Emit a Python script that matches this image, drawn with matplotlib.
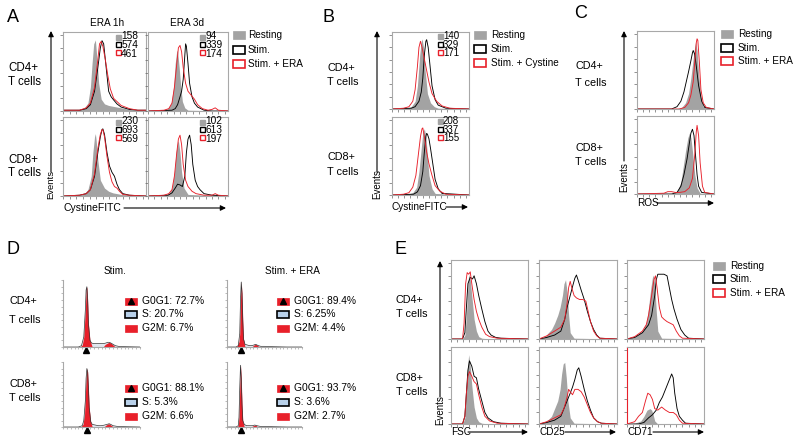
import matplotlib
matplotlib.use('Agg')
import matplotlib.pyplot as plt
from matplotlib.patches import Rectangle, FancyArrowPatch
from matplotlib.lines import Line2D
import numpy as np

plt.rcParams['font.family'] = ['Liberation Sans', 'DejaVu Sans']

# ---------------- DATA (x: % of axis width, y: % of max events) ----------------
# Panel A, CD4, ERA 1h
a11_rest_x = [0, 15, 25, 30, 33, 35, 37, 39, 41, 43, 46, 50, 55, 60, 70, 80, 90, 100]
a11_rest_y = [1, 1, 3, 10, 30, 60, 85, 90, 65, 35, 15, 9, 7, 6, 4, 2, 1, 1]
a11_stim_x = [0, 20, 28, 33, 38, 42, 45, 47, 49, 52, 55, 58, 61, 65, 70, 80, 90, 100]
a11_stim_y = [1, 1, 3, 8, 25, 55, 80, 89, 85, 55, 25, 18, 14, 9, 5, 2, 1, 1]
a11_era_x = [0, 20, 28, 33, 38, 42, 44, 46, 48, 51, 54, 57, 61, 65, 70, 80, 90, 100]
a11_era_y = [1, 1, 4, 10, 30, 65, 85, 88, 82, 65, 45, 28, 16, 12, 7, 3, 1, 1]
# Panel A, CD4, ERA 3d
a12_rest_x = [0, 20, 25, 29, 32, 34, 36, 37, 39, 41, 43, 46, 50, 100]
a12_rest_y = [0, 1, 3, 10, 30, 60, 77, 75, 55, 30, 12, 4, 1, 0]
a12_stim_x = [0, 30, 34, 37, 40, 42, 44, 46, 47, 48, 50, 52, 55, 58, 62, 66, 70, 80, 100]
a12_stim_y = [0, 1, 3, 8, 18, 25, 40, 70, 85, 82, 60, 35, 18, 10, 5, 3, 1, 0, 0]
a12_era_x = [0, 20, 26, 30, 33, 36, 38, 40, 42, 44, 47, 50, 54, 58, 62, 68, 75, 80, 84, 88, 100]
a12_era_y = [0, 1, 3, 10, 30, 60, 80, 83, 75, 55, 35, 25, 20, 15, 8, 3, 1, 2, 4, 1, 0]
# Panel A, CD8, ERA 1h
a21_rest_x = [0, 20, 26, 30, 34, 36, 38, 39, 40, 42, 45, 50, 55, 60, 70, 100]
a21_rest_y = [0, 1, 3, 8, 25, 55, 75, 79, 70, 45, 20, 10, 6, 4, 2, 0]
a21_stim_x = [0, 20, 28, 33, 38, 42, 45, 47, 48, 50, 53, 56, 59, 62, 65, 68, 72, 80, 100]
a21_stim_y = [0, 1, 3, 8, 25, 55, 75, 84, 85, 78, 55, 38, 30, 25, 15, 8, 3, 1, 0]
a21_era_x = [0, 20, 28, 33, 38, 42, 45, 47, 48, 50, 53, 56, 59, 62, 65, 68, 72, 80, 100]
a21_era_y = [0, 1, 3, 8, 28, 60, 78, 84, 84, 75, 50, 30, 18, 12, 10, 6, 2, 1, 0]
# Panel A, CD8, ERA 3d
a22_rest_x = [0, 20, 26, 30, 33, 35, 37, 38, 40, 42, 45, 50, 100]
a22_rest_y = [0, 1, 3, 10, 30, 55, 68, 70, 55, 30, 10, 2, 0]
a22_stim_x = [0, 25, 30, 34, 37, 40, 43, 46, 48, 50, 52, 54, 56, 59, 62, 65, 70, 80, 100]
a22_stim_y = [0, 1, 4, 10, 15, 14, 12, 25, 55, 72, 77, 65, 40, 20, 12, 8, 3, 1, 0]
a22_era_x = [0, 20, 26, 30, 33, 36, 38, 40, 42, 44, 47, 50, 55, 60, 70, 80, 84, 88, 100]
a22_era_y = [0, 1, 3, 8, 25, 55, 72, 77, 65, 40, 20, 12, 6, 3, 1, 1, 3, 1, 0]
a_mfi = [[158, 574, 461], [94, 339, 174], [230, 693, 569], [102, 613, 197]]

# Panel B
b1_rest_x = [0, 20, 25, 30, 33, 36, 38, 39, 41, 43, 46, 50, 55, 60, 100]
b1_rest_y = [0, 1, 3, 10, 30, 70, 88, 91, 80, 50, 20, 8, 3, 1, 0]
b1_stim_x = [0, 25, 30, 35, 38, 40, 42, 44, 45, 47, 49, 52, 56, 60, 70, 100]
b1_stim_y = [0, 1, 3, 10, 22, 40, 70, 88, 90, 80, 60, 30, 12, 5, 1, 0]
b1_cys_x = [0, 15, 22, 27, 30, 33, 35, 37, 39, 41, 44, 48, 52, 58, 65, 75, 100]
b1_cys_y = [0, 1, 3, 10, 25, 55, 80, 88, 80, 70, 55, 35, 20, 10, 4, 1, 0]
b2_rest_x = [0, 20, 27, 32, 35, 38, 40, 42, 44, 46, 48, 52, 56, 100]
b2_rest_y = [0, 1, 3, 10, 30, 60, 80, 85, 75, 50, 25, 8, 2, 0]
b2_stim_x = [0, 28, 33, 37, 40, 42, 44, 45, 46, 48, 50, 53, 56, 60, 65, 100]
b2_stim_y = [0, 1, 4, 12, 30, 55, 75, 79, 78, 72, 60, 40, 20, 8, 2, 0]
b2_cys_x = [0, 15, 22, 27, 31, 34, 37, 39, 40, 42, 45, 48, 52, 56, 62, 70, 100]
b2_cys_y = [0, 1, 3, 10, 25, 50, 75, 85, 86, 75, 55, 40, 25, 12, 5, 1, 0]
b_mfi = [[140, 329, 171], [208, 337, 155]]

# Panel C (ROS)
c1_rest_x = [0, 50, 58, 63, 67, 70, 73, 75, 76, 78, 80, 83, 86, 100]
c1_rest_y = [0, 0, 2, 8, 20, 40, 65, 80, 86, 75, 45, 15, 3, 0]
c1_stim_x = [0, 45, 52, 57, 61, 64, 67, 70, 72, 73, 75, 77, 80, 84, 88, 100]
c1_stim_y = [0, 0, 3, 10, 22, 35, 48, 62, 72, 75, 70, 55, 30, 10, 2, 0]
c1_era_x = [0, 55, 62, 67, 70, 73, 75, 77, 78, 79, 81, 83, 86, 90, 100]
c1_era_y = [0, 0, 2, 8, 18, 35, 60, 85, 90, 88, 60, 25, 8, 2, 0]
c2_rest_x = [0, 45, 52, 57, 60, 63, 66, 68, 70, 72, 75, 78, 82, 100]
c2_rest_y = [0, 0, 3, 15, 35, 55, 72, 78, 72, 55, 25, 8, 1, 0]
c2_stim_x = [0, 45, 52, 57, 61, 65, 68, 70, 72, 74, 76, 78, 80, 84, 100]
c2_stim_y = [0, 0, 2, 10, 25, 45, 65, 78, 83, 75, 50, 25, 10, 2, 0]
c2_era_x = [0, 35, 40, 45, 50, 55, 62, 68, 72, 75, 77, 78, 80, 82, 85, 88, 100]
c2_era_y = [0, 1, 3, 3, 2, 2, 3, 8, 20, 50, 80, 88, 75, 40, 10, 2, 0]

# Panel D (cell cycle)
d11_all_x = [0, 20, 24, 27, 29, 30, 31, 32, 33, 35, 37, 40, 44, 48, 52, 56, 58, 60, 62, 65, 68, 72, 80, 100]
d11_all_y = [0, 0, 2, 15, 55, 85, 90, 70, 35, 10, 6, 5, 5, 5, 5, 6, 7, 7, 6, 4, 2, 1, 0.5, 0]
d11_g1_x = [22, 25, 27, 29, 30, 31, 32, 33, 35, 38]
d11_g1_y = [0, 3, 15, 55, 85, 90, 70, 35, 10, 0]
d11_g2_x = [52, 55, 58, 60, 62, 65, 68]
d11_g2_y = [0, 4, 6, 7, 6, 3, 0]
d12_all_x = [0, 12, 15, 17, 18, 19, 20, 21, 22, 24, 27, 30, 33, 36, 38, 40, 42, 45, 50, 60, 80, 100]
d12_all_y = [0, 0, 2, 20, 70, 97, 80, 40, 12, 4, 3, 2, 2, 3, 4, 3, 2, 1, 1, 0.5, 0, 0]
d12_g1_x = [13, 16, 17, 18, 19, 20, 21, 22, 24]
d12_g1_y = [0, 8, 20, 70, 97, 80, 40, 12, 0]
d12_g2_x = [33, 36, 38, 40, 43]
d12_g2_y = [0, 3, 4, 3, 0]
d21_all_x = [0, 20, 25, 27, 29, 30, 31, 32, 33, 34, 36, 38, 42, 46, 50, 54, 57, 60, 62, 65, 70, 80, 100]
d21_all_y = [0, 0, 2, 10, 40, 75, 90, 85, 60, 30, 8, 4, 3, 2, 2, 3, 4, 5, 4, 2, 1, 0.5, 0]
d21_g1_x = [23, 26, 28, 30, 31, 32, 33, 34, 36, 38]
d21_g1_y = [0, 4, 20, 75, 90, 85, 60, 30, 8, 0]
d21_g2_x = [53, 56, 59, 61, 63, 66]
d21_g2_y = [0, 3, 5, 4, 2, 0]
d22_all_x = [0, 12, 15, 16, 17, 18, 19, 20, 21, 23, 26, 30, 34, 37, 40, 44, 50, 60, 80, 100]
d22_all_y = [0, 0, 2, 15, 60, 95, 75, 35, 10, 4, 2, 2, 2, 3, 2, 1, 1, 0.5, 0, 0]
d22_g1_x = [13, 15, 16, 17, 18, 19, 20, 21, 23]
d22_g1_y = [0, 2, 15, 60, 95, 75, 35, 10, 0]
d22_g2_x = [32, 35, 38, 41]
d22_g2_y = [0, 2, 3, 0]
d_peak = [30.5, 19, 31, 18]
d_g0g1 = ['72.7%', '89.4%', '88.1%', '93.7%']
d_s = ['20.7%', '6.25%', '5.3%', '3.6%']
d_g2m = ['6.7%', '4.4%', '6.6%', '2.7%']

# Panel E (FSC, CD25, CD71)
e11_rest_x = [0, 15, 18, 20, 22, 23, 25, 27, 30, 33, 36, 40, 50, 100]
e11_rest_y = [0, 0, 5, 30, 70, 82, 75, 55, 25, 10, 3, 1, 0, 0]
e11_stim_x = [0, 15, 18, 20, 22, 25, 28, 30, 33, 36, 40, 44, 48, 52, 58, 65, 100]
e11_stim_y = [0, 0, 8, 40, 70, 78, 76, 80, 70, 55, 38, 22, 10, 5, 2, 1, 0]
e11_era_x = [0, 15, 17, 19, 21, 23, 25, 27, 30, 33, 36, 40, 45, 50, 60, 100]
e11_era_y = [0, 0, 20, 70, 84, 82, 85, 70, 50, 35, 25, 15, 6, 3, 1, 0]
e12_rest_x = [0, 8, 12, 16, 20, 24, 27, 30, 32, 34, 36, 38, 40, 45, 100]
e12_rest_y = [0, 3, 8, 12, 20, 30, 40, 55, 70, 75, 60, 30, 8, 1, 0]
e12_stim_x = [0, 10, 20, 28, 33, 36, 40, 44, 46, 48, 50, 54, 58, 62, 66, 70, 74, 78, 100]
e12_stim_y = [0, 2, 5, 10, 25, 40, 55, 70, 77, 81, 75, 62, 50, 35, 22, 12, 5, 1, 0]
e12_era_x = [0, 10, 20, 28, 33, 36, 38, 40, 42, 45, 48, 52, 56, 60, 63, 66, 70, 74, 78, 100]
e12_era_y = [0, 4, 10, 15, 25, 45, 65, 73, 65, 55, 52, 50, 50, 48, 35, 22, 10, 4, 1, 0]
e13_rest_x = [0, 10, 20, 25, 28, 31, 33, 34, 36, 38, 40, 45, 100]
e13_rest_y = [0, 3, 10, 20, 40, 65, 78, 81, 70, 35, 10, 1, 0]
e13_stim_x = [0, 10, 20, 28, 32, 36, 38, 40, 44, 48, 52, 55, 58, 61, 65, 70, 75, 80, 100]
e13_stim_y = [0, 2, 8, 18, 30, 55, 75, 82, 82, 82, 80, 65, 50, 38, 25, 12, 5, 1, 0]
e13_era_x = [0, 10, 20, 25, 28, 32, 35, 37, 39, 42, 45, 48, 52, 56, 60, 64, 68, 72, 100]
e13_era_y = [0, 3, 10, 18, 30, 55, 75, 80, 65, 40, 28, 25, 22, 20, 18, 10, 4, 1, 0]
e21_rest_x = [0, 15, 18, 20, 22, 23, 25, 27, 30, 33, 36, 40, 50, 100]
e21_rest_y = [0, 0, 8, 45, 80, 90, 75, 50, 22, 8, 3, 1, 0, 0]
e21_stim_x = [0, 15, 18, 20, 22, 24, 27, 30, 33, 36, 40, 44, 48, 55, 65, 100]
e21_stim_y = [0, 0, 10, 40, 70, 82, 75, 62, 60, 45, 30, 15, 8, 3, 1, 0]
e21_era_x = [0, 15, 18, 20, 22, 24, 27, 30, 33, 36, 40, 44, 50, 60, 100]
e21_era_y = [0, 0, 10, 40, 62, 68, 62, 55, 52, 38, 22, 10, 4, 1, 0]
e22_rest_x = [0, 8, 12, 16, 20, 24, 27, 29, 31, 33, 35, 37, 40, 45, 100]
e22_rest_y = [0, 3, 6, 10, 20, 30, 45, 65, 78, 80, 60, 30, 8, 1, 0]
e22_stim_x = [0, 10, 20, 28, 32, 36, 40, 43, 46, 49, 51, 54, 58, 62, 66, 70, 75, 80, 100]
e22_stim_y = [0, 2, 5, 10, 20, 30, 40, 48, 58, 70, 73, 62, 45, 30, 18, 8, 3, 1, 0]
e22_era_x = [0, 10, 20, 28, 32, 36, 38, 40, 43, 46, 50, 54, 58, 62, 66, 70, 75, 80, 100]
e22_era_y = [0, 3, 8, 12, 20, 35, 45, 42, 38, 45, 45, 42, 35, 25, 15, 8, 3, 1, 0]
e23_rest_x = [0, 10, 18, 22, 26, 30, 32, 34, 36, 40, 100]
e23_rest_y = [0, 1, 4, 10, 18, 20, 18, 12, 4, 0, 0]
e23_stim_x = [0, 15, 22, 28, 33, 38, 42, 46, 50, 54, 58, 60, 62, 65, 68, 72, 76, 100]
e23_stim_y = [0, 0, 2, 8, 12, 18, 28, 35, 45, 55, 65, 60, 40, 20, 10, 5, 1, 0]
e23_era_x = [0, 10, 15, 20, 24, 27, 30, 33, 36, 40, 45, 50, 55, 60, 64, 68, 72, 100]
e23_era_y = [0, 3, 10, 15, 30, 40, 38, 32, 20, 18, 22, 18, 15, 15, 12, 5, 1, 0]

legend_ac = ['Resting', 'Stim.', 'Stim. + ERA']
legend_b = ['Resting', 'Stim.', 'Stim. + Cystine']

# ---------------- STYLE / HELPERS ----------------
W, H = 800, 444
GRAY = '#a3a3a3'
RED = '#e8202a'
FRAME = '#a8a8a8'
FS_ROW = 7.8
FS_LEG = 7.2
fig = plt.figure(figsize=(8, 4.44), dpi=100)
fig.patch.set_facecolor('white')


def fx(x):
    return x / W


def fy(y):
    return 1 - y / H


def T(x, y, s, size=FS_ROW, ha='left', va='center', **kw):
    fig.text(fx(x), fy(y), s, fontsize=size, ha=ha, va=va, **kw)


def rect(x, y, w, h, fc, ec, lw=1.0):
    fig.add_artist(Rectangle((fx(x), fy(y + h / 2)), w / W, h / H, transform=fig.transFigure,
                             facecolor=fc, edgecolor=ec, lw=lw))


def arrow(x0, y0, x1, y1):
    fig.add_artist(FancyArrowPatch((fx(x0), fy(y0)), (fx(x1), fy(y1)), transform=fig.transFigure,
                                   arrowstyle='-|>', mutation_scale=8, lw=0.8, color='black',
                                   shrinkA=0, shrinkB=0))


def box(x0, y0, x1, y1):
    ax = fig.add_axes([fx(x0), fy(y1), (x1 - x0) / W, (y1 - y0) / H])
    ax.set_xlim(0, 100)
    ax.set_ylim(0, 100)
    ax.set_xticks(np.arange(0, 101, 8))
    ax.set_yticks(np.arange(0, 101, 16))
    ax.set_xticklabels([])
    ax.set_yticklabels([])
    ax.tick_params(length=2, width=0.5, color='#666666', direction='out', pad=0)
    for s in ax.spines.values():
        s.set_color(FRAME)
        s.set_linewidth(0.8)
    return ax


def hist3(ax, rx, ry, sx, sy, ex, ey):
    ax.fill_between(rx, ry, color=GRAY, lw=0)
    ax.plot(sx, sy, color='black', lw=0.65)
    ax.plot(ex, ey, color=RED, lw=0.65)


def nums(ax, vals, sx, tx, size):
    # one text block (three lines) + three key squares
    bb = ax.get_position()
    step = 7.6 / (bb.height * H)
    ym = 0.845
    ys = [ym + step, ym, ym - step]
    styles = [(GRAY, GRAY), ('white', 'black'), ('white', RED)]
    for y, (fc, ec) in zip(ys, styles):
        ax.plot([sx], [y], marker='s', ms=3.6, mfc=fc, mec=ec, mew=1.0, transform=ax.transAxes, clip_on=False)
    ax.text(tx, ym - 0.01, '\n'.join(str(v) for v in vals), transform=ax.transAxes, fontsize=size,
            va='center', ha='left', linespacing=0.82)


def legend3(x, ys, tx, labels):
    rect(x, ys[0], 12, 8, GRAY, GRAY, lw=0.5)
    rect(x, ys[1], 12, 8, 'white', 'black', lw=1.2)
    rect(x, ys[2], 12, 8, 'white', RED, lw=1.2)
    for y, l in zip(ys, labels):
        T(tx, y, l, size=FS_LEG)


def rowlabels(x, y4, y8, size=FS_ROW):
    T(x, y4[0], 'CD4+', size=size)
    T(x, y4[1], 'T cells', size=size)
    T(x, y8[0], 'CD8+', size=size)
    T(x, y8[1], 'T cells', size=size)


def events(x, y_text, y_bot, y_top, size=7):
    T(x, y_text, 'Events', rotation=90, ha='center', size=size)
    arrow(x, y_bot, x, y_top)


# ---------------- PANEL A ----------------
T(13, 17, 'A', size=13, ha='center')
T(107, 23, 'ERA 1h', ha='center', size=7.2)
T(187, 23, 'ERA 3d', ha='center', size=7.2)
rowlabels(8, (68, 82), (160, 173), size=8.3)
ax = box(63, 32, 146, 111); hist3(ax, a11_rest_x, a11_rest_y, a11_stim_x, a11_stim_y, a11_era_x, a11_era_y); nums(ax, a_mfi[0], 0.66, 0.70, 7.3)
ax = box(148, 32, 228, 111); hist3(ax, a12_rest_x, a12_rest_y, a12_stim_x, a12_stim_y, a12_era_x, a12_era_y); nums(ax, a_mfi[1], 0.67, 0.72, 7.3)
ax = box(63, 117, 146, 196); hist3(ax, a21_rest_x, a21_rest_y, a21_stim_x, a21_stim_y, a21_era_x, a21_era_y); nums(ax, a_mfi[2], 0.66, 0.70, 7.3)
ax = box(148, 117, 228, 196); hist3(ax, a22_rest_x, a22_rest_y, a22_stim_x, a22_stim_y, a22_era_x, a22_era_y); nums(ax, a_mfi[3], 0.67, 0.72, 7.3)
events(51, 184, 172, 31, size=6.8)
T(63, 208, 'CystineFITC', size=7.5)
arrow(124, 208, 226, 208)
legend3(233, (35, 50, 64), 248, legend_ac)

# ---------------- PANEL B ----------------
T(329, 18, 'B', size=13, ha='center')
rowlabels(327, (68, 82), (157, 172))
ax = box(392, 32, 469, 109); hist3(ax, b1_rest_x, b1_rest_y, b1_stim_x, b1_stim_y, b1_cys_x, b1_cys_y); nums(ax, b_mfi[0], 0.62, 0.66, 7.0)
ax = box(392, 117, 469, 195); hist3(ax, b2_rest_x, b2_rest_y, b2_stim_x, b2_stim_y, b2_cys_x, b2_cys_y); nums(ax, b_mfi[1], 0.62, 0.66, 7.0)
events(377, 184, 172, 31)
T(391, 207, 'CystineFITC', size=7.2)
arrow(446, 207, 468, 207)
legend3(474, (35, 49, 63), 491, legend_b)

# ---------------- PANEL C ----------------
T(581, 14, 'C', size=13, ha='center')
rowlabels(575, (66, 83), (148, 162))
ax = box(637, 31, 714, 109); hist3(ax, c1_rest_x, c1_rest_y, c1_stim_x, c1_stim_y, c1_era_x, c1_era_y)
ax = box(637, 116, 714, 194); hist3(ax, c2_rest_x, c2_rest_y, c2_stim_x, c2_stim_y, c2_era_x, c2_era_y)
events(624, 177, 161, 31)
T(637, 203, 'ROS', size=7.2)
arrow(657, 203, 714, 203)
legend3(721, (34, 48, 61), 738, legend_ac)

# ---------------- PANEL D ----------------
T(13, 249, 'D', size=13, ha='center')
T(115, 271, 'Stim.', ha='center', size=7.2)
T(292, 271, 'Stim. + ERA', ha='center', size=7.2)
rowlabels(9, (301, 320), (384, 398))


def daxes(x0, y0, x1, y1, allx, ally, g1x, g1y, g2x, g2y, peak):
    ax = fig.add_axes([fx(x0), fy(y1), (x1 - x0) / W, (y1 - y0) / H])
    ax.set_xlim(0, 100)
    ax.set_ylim(0, 100)
    for s in ['top', 'right']:
        ax.spines[s].set_visible(False)
    for s in ['left', 'bottom']:
        ax.spines[s].set_color(FRAME)
        ax.spines[s].set_linewidth(0.8)
    ax.set_xticks(np.arange(0, 101, 5))
    ax.set_yticks(np.arange(0, 101, 10))
    ax.set_xticklabels([])
    ax.set_yticklabels([])
    ax.tick_params(length=1.5, width=0.4, color='#888888', direction='out', pad=0)
    ax.fill_between(allx, ally, color='#dfe6ee', lw=0)
    ax.fill_between(g1x, g1y, color=RED, lw=0)
    ax.fill_between(g2x, g2y, color=RED, lw=0)
    ax.plot(allx, ally, color='#333333', lw=0.5)
    ax.plot([peak], [-5], marker='^', color='black', ms=5, clip_on=False)
    return ax


daxes(63, 280, 140, 347, d11_all_x, d11_all_y, d11_g1_x, d11_g1_y, d11_g2_x, d11_g2_y, d_peak[0])
daxes(227, 280, 302, 347, d12_all_x, d12_all_y, d12_g1_x, d12_g1_y, d12_g2_x, d12_g2_y, d_peak[1])
daxes(63, 362, 140, 427, d21_all_x, d21_all_y, d21_g1_x, d21_g1_y, d21_g2_x, d21_g2_y, d_peak[2])
daxes(227, 362, 302, 427, d22_all_x, d22_all_y, d22_g1_x, d22_g1_y, d22_g2_x, d22_g2_y, d_peak[3])


def dlegend(x, ys, tx, i):
    rect(x, ys[0], 12, 7, RED, RED, lw=0.5)
    fig.add_artist(Line2D([fx(x + 6)], [fy(ys[0])], marker='^', ms=4, color='black', transform=fig.transFigure))
    rect(x, ys[1], 12, 7, '#b9d1ea', 'black', lw=1.2)
    rect(x, ys[2], 12, 7, RED, RED, lw=0.5)
    T(tx, ys[0], 'G0G1: ' + d_g0g1[i], size=7.4)
    T(tx, ys[1], 'S: ' + d_s[i], size=7.4)
    T(tx, ys[2], 'G2M: ' + d_g2m[i], size=7.4)


dlegend(125, (301, 314, 328), 142, 0)
dlegend(277, (301, 314, 328), 294, 1)
dlegend(125, (388, 402, 416), 142, 2)
dlegend(277, (388, 402, 416), 294, 3)

# ---------------- PANEL E ----------------
T(401, 249, 'E', size=13, ha='center')
rowlabels(396, (300, 314), (378, 392))
ax = box(451, 260, 528, 339); hist3(ax, e11_rest_x, e11_rest_y, e11_stim_x, e11_stim_y, e11_era_x, e11_era_y)
ax = box(539, 260, 617, 339); hist3(ax, e12_rest_x, e12_rest_y, e12_stim_x, e12_stim_y, e12_era_x, e12_era_y)
ax = box(627, 260, 704, 339); hist3(ax, e13_rest_x, e13_rest_y, e13_stim_x, e13_stim_y, e13_era_x, e13_era_y)
ax = box(451, 347, 528, 424); hist3(ax, e21_rest_x, e21_rest_y, e21_stim_x, e21_stim_y, e21_era_x, e21_era_y)
ax = box(539, 347, 617, 424); hist3(ax, e22_rest_x, e22_rest_y, e22_stim_x, e22_stim_y, e22_era_x, e22_era_y)
ax = box(627, 347, 704, 424); hist3(ax, e23_rest_x, e23_rest_y, e23_stim_x, e23_stim_y, e23_era_x, e23_era_y)
ax.spines['left'].set_color(RED)
events(440, 410, 397, 261)
T(451, 432, 'FSC', size=7.2)
arrow(468, 432, 528, 432)
T(539, 432, 'CD25', size=7.2)
arrow(565, 432, 616, 432)
T(627, 432, 'CD71', size=7.2)
arrow(653, 432, 704, 432)
legend3(713, (266, 279, 293), 730, legend_ac)

fig.savefig('out.png', dpi=100, facecolor='white')
